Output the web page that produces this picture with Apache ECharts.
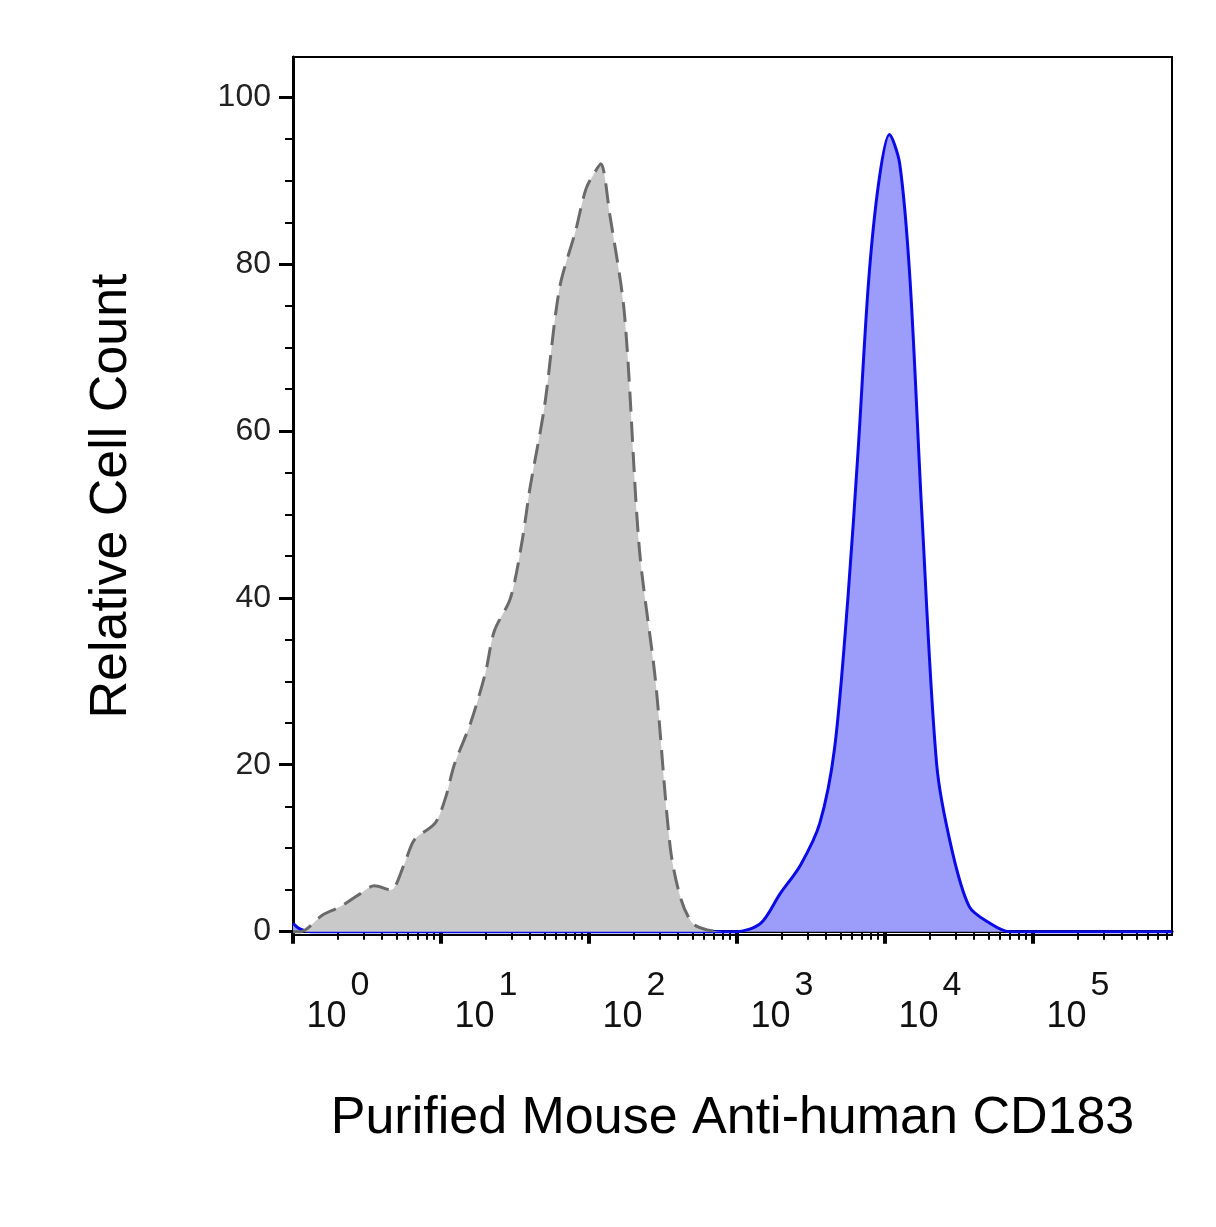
<!DOCTYPE html>
<html lang="en">
<head>
<meta charset="UTF-8">
<title>CD183</title>
<script src="https://cdn.jsdelivr.net/npm/echarts@6.0.0/dist/echarts.min.js"></script>
<style>body{margin:0;background:#fff}</style>
</head>
<body>
<div id="main" style="width:1216px;height:1227px;"></div>
<script>
// x in log10 units of fluorescence, y in relative cell count
var isotypeX = [0.0, 0.05, 0.2, 0.32, 0.45, 0.55, 0.66, 0.75, 0.82, 0.96, 1.03, 1.09, 1.2, 1.3, 1.36, 1.47, 1.55, 1.6, 1.7, 1.8, 1.91, 1.98, 2.04, 2.08, 2.14, 2.24, 2.34, 2.45, 2.55, 2.62, 2.7, 2.8, 2.9];
var isotypeY = [0, 0, 2, 3, 4.5, 5.5, 5, 8, 11, 13, 16, 20, 25, 31, 36, 40, 47, 53, 63, 77, 84, 89, 91, 92, 86, 74, 46, 30, 10, 4, 1, 0.2, 0];
var cd183X = [0.0, 0.05, 0.12, 2.2, 2.99, 3.16, 3.29, 3.43, 3.56, 3.66, 3.75, 3.82, 3.89, 3.96, 4.03, 4.1, 4.17, 4.25, 4.35, 4.45, 4.57, 4.71, 4.84, 5.94];
var cd183Y = [1, 0.3, 0, 0, 0, 1, 4.5, 8, 13, 22, 40, 58, 78, 90, 95.5, 92, 78, 50, 20, 10, 3, 1, 0, 0];
var decades = [0, 1, 2, 3, 4, 5];
var yTicks = [0, 20, 40, 60, 80, 100];

var minorX = [];
decades.forEach(function (d) {
  for (var k = 2; k <= 9; k++) {
    var v = d + Math.log10(k);
    if (v < 5.94) minorX.push(v);
  }
});
var minorY = [];
for (var v = 0; v <= 100; v += 5) minorY.push(v);

function pairs(xs, ys) { return xs.map(function (x, i) { return [x, ys[i]]; }); }

var chart = echarts.init(document.getElementById('main'));
var font = 'Liberation Sans, Arial, sans-serif';
chart.setOption({
  animation: false,
  grid: { left: 293, right: 44, top: 57, bottom: 292, show: true, borderColor: '#000', borderWidth: 2 },
  xAxis: [{
    type: 'value', min: 0, max: 5.94,
    axisLine: { lineStyle: { color: '#000', width: 3 } },
    axisTick: { length: 12, lineStyle: { color: '#000', width: 4 }, customValues: decades },
    splitLine: { show: false },
    axisLabel: {
      customValues: decades, margin: 34, padding: [0, 0, 0, 90],
      formatter: function (v) { return '{b|10}{s|' + v + '}'; },
      rich: {
        b: { fontSize: 36, fontFamily: font, color: '#111', padding: [30, 0, 0, 0] },
        s: { fontSize: 34, fontFamily: font, color: '#111', verticalAlign: 'top', padding: [0, 0, 30, 4] }
      }
    },
    name: 'Purified Mouse Anti-human CD183', nameLocation: 'middle', nameGap: 158,
    nameTextStyle: { fontSize: 52, fontFamily: font, color: '#000' }
  }, {
    type: 'value', min: 0, max: 5.94, position: 'bottom',
    axisLine: { show: false },
    axisTick: { length: 8, lineStyle: { color: '#000', width: 2 }, customValues: minorX },
    axisLabel: { show: false }, splitLine: { show: false }
  }],
  yAxis: [{
    type: 'value', min: -0.4, max: 104.8,
    axisLine: { lineStyle: { color: '#000', width: 3 } },
    axisTick: { length: 14, lineStyle: { color: '#000', width: 3 }, customValues: yTicks },
    splitLine: { show: false },
    axisLabel: { customValues: yTicks, fontSize: 32, fontFamily: font, color: '#222', margin: 22 },
    name: 'Relative Cell Count', nameLocation: 'middle', nameGap: 155,
    nameTextStyle: { fontSize: 52, fontFamily: font, color: '#000' }
  }, {
    type: 'value', min: -0.4, max: 104.8, position: 'left',
    axisLine: { show: false },
    axisTick: { length: 8, lineStyle: { color: '#000', width: 2 }, customValues: minorY },
    axisLabel: { show: false }, splitLine: { show: false }
  }],
  series: [{
    type: 'line', name: 'CD183', data: pairs(cd183X, cd183Y), smooth: 0.3, symbol: 'none', z: 2,
    lineStyle: { color: '#0a0ae6', width: 3 },
    areaStyle: { color: '#9c9cfb', opacity: 1 }
  }, {
    type: 'line', name: 'Isotype', data: pairs(isotypeX, isotypeY), smooth: 0.3, symbol: 'none', z: 3,
    lineStyle: { color: '#6a6a6a', width: 3, type: [20, 10] },
    areaStyle: { color: '#c9c9c9', opacity: 1 }
  }]
});
</script>
</body>
</html>
